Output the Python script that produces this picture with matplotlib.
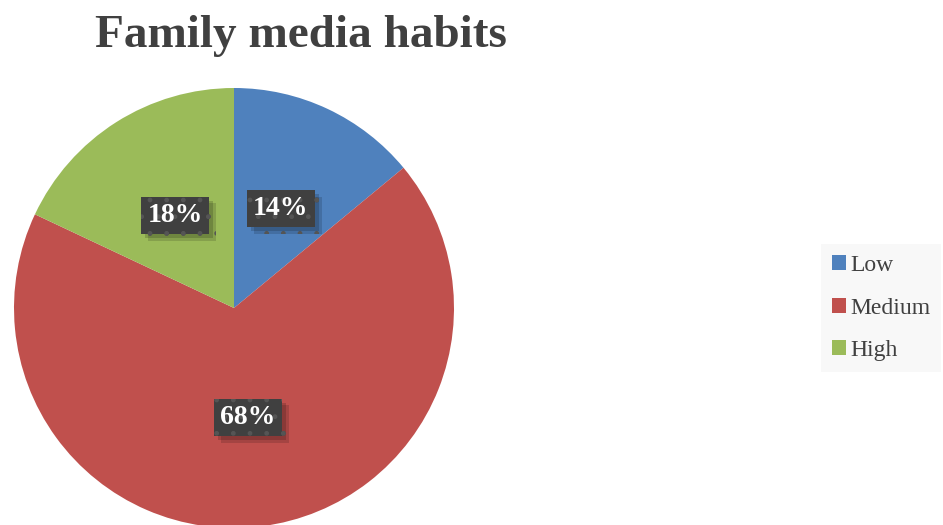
import matplotlib
matplotlib.use("Agg")
import matplotlib.pyplot as plt
from matplotlib.patches import Patch
import matplotlib.patheffects as pe
import numpy as np

categories = ["Low", "Medium", "High"]
shares = [14, 68, 18]
colors = ["#4F81BD", "#C0504D", "#9BBB59"]

W, H = 943, 525
fig = plt.figure(figsize=(W / 100, H / 100), dpi=100)
fig.patch.set_facecolor("white")

serif = ["Liberation Serif", "DejaVu Serif"]

# pie axes: centre (234, 308) px from top-left, radius 220 px
cx, cy, r = 234, 308, 220
ax = fig.add_axes([(cx - r) / W, (H - cy - r) / H, 2 * r / W, 2 * r / H])
ax.set_aspect("equal")
ax.axis("off")

wedges, _ = ax.pie(shares, colors=colors, startangle=90, counterclock=False,
                   radius=1.0, center=(0, 0), frame=False,
                   wedgeprops=dict(linewidth=0))
ax.set_xlim(-1, 1)
ax.set_ylim(-1, 1)

# value labels on dark dotted boxes with a soft drop shadow
total = sum(shares)
start = 90.0
shadow = [pe.SimplePatchShadow(offset=(5, -5), shadow_rgbFace="black", alpha=0.14),
          pe.SimplePatchShadow(offset=(3, -3), shadow_rgbFace="black", alpha=0.16),
          pe.Normal()]
for val in shares:
    span = val / total * 360.0
    mid = np.deg2rad(start - span / 2)
    start -= span
    x, y = 0.5 * np.cos(mid), 0.5 * np.sin(mid)
    t = ax.text(x, y, f"{val}%", ha="center", va="center", fontsize=20,
                fontweight="bold", family=serif, color="white",
                bbox=dict(boxstyle="square,pad=0.22", facecolor="#404040",
                          edgecolor="#555555", linewidth=0, hatch="."),
                zorder=5)
    t.get_bbox_patch().set_path_effects(shadow)

fig.text(301 / W, 1 - 36 / H, "Family media habits", ha="center", va="center",
         fontsize=34, fontweight="bold", family=serif, color="#404040")

handles = [Patch(facecolor=c, edgecolor="none") for c in colors]
leg = fig.legend(handles, categories, loc="center left",
                 bbox_to_anchor=(821 / W, 1 - 308 / H),
                 prop=dict(family=serif, size=17), frameon=True,
                 handlelength=0.6, handleheight=0.6, handletextpad=0.2,
                 labelspacing=0.92, borderpad=0.45, borderaxespad=0,
                 fancybox=False)
leg.get_frame().set_facecolor("#F7F7F7")
leg.get_frame().set_edgecolor("none")
for txt in leg.get_texts():
    txt.set_color("#404040")

fig.savefig("out.png", dpi=100)
